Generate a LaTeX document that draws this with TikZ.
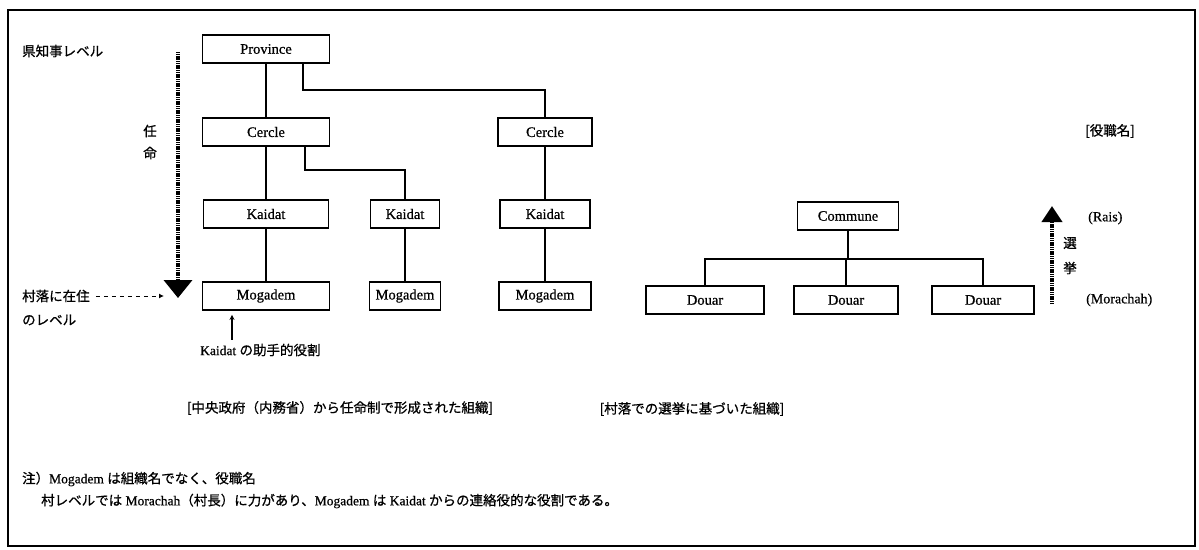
\documentclass[tikz,border=0pt]{standalone}
\usepackage{fontspec}
\setmainfont{Liberation Serif}[FakeBold=0.6]
\newfontfamily\jp{Noto Sans CJK JP}[FakeBold=0.8]
\usetikzlibrary{arrows.meta,calc}
\begin{document}
\begin{tikzpicture}[x={(1pt,0)},y={(0,-1pt)},
  box/.style={draw,line width=1.9pt,inner sep=0pt,minimum height=28pt,font=\fontsize{14.5}{14.5}\selectfont},
  conn/.style={line width=1.8pt},
  jtext/.style={font=\jp\fontsize{13.5}{13.5}\selectfont,inner sep=0pt},
  ltext/.style={font=\fontsize{14}{14}\selectfont,inner sep=0pt},
  dotarrow/.style={line width=3.8pt,dash pattern=on 1.2pt off 0.6pt},
  frame/.style={line width=1.8pt}]
\useasboundingbox (0,0) rectangle (1199,549);
\draw[frame] (8,10) rectangle (1195,546);
% left hierarchy
\node[box,minimum width=127pt] (prov) at (266,49) {Province};
\node[box,minimum width=127pt] (c1) at (266,132) {Cercle};
\node[box,minimum width=94pt] (c2) at (545,132) {Cercle};
\node[box,minimum width=125pt] (k1) at (266,214) {Kaidat};
\node[box,minimum width=69pt] (k2) at (405,214) {Kaidat};
\node[box,minimum width=90pt] (k3) at (545,214) {Kaidat};
\node[box,minimum width=127pt] (m1) at (266,296) {Mogadem};
\node[box,minimum width=71pt] (m2) at (405,296) {Mogadem};
\node[box,minimum width=92pt] (m3) at (545,296) {Mogadem};
\coordinate (j1) at (303,90);
\coordinate (j2) at (305,170);
\draw[conn] (prov) -- (c1);
\draw[conn] (prov.south -| j1) -- (j1) -| (c2.north);
\draw[conn] (c1) -- (k1);
\draw[conn] (c1.south -| j2) -- (j2) -| (k2.north);
\draw[conn] (c2) -- (k3);
\draw[conn] (k1) -- (m1);
\draw[conn] (k2) -- (m2);
\draw[conn] (k3) -- (m3);
% right hierarchy
\node[box,minimum width=101pt] (com) at (848,216) {Commune};
\node[box,minimum width=118pt] (d1) at (705,300) {Douar};
\node[box,minimum width=104pt] (d2) at (846,300) {Douar};
\node[box,minimum width=102pt] (d3) at (983,300) {Douar};
\coordinate (bar) at (848,259);
\draw[conn] (com.south) -- (com.south |- bar);
\draw[conn] (d1.north) |- (bar) -| (d3.north);
\draw[conn] (d2.north) -- (d2.north |- bar);
% left labels
\node[jtext,anchor=west] (lvl1) at (22,51) {県知事レベル};
\node[jtext] (nin) at (150,131) {任};
\node[jtext] (mei) at (150,153) {命};
\coordinate (la1) at (178,52);
\coordinate (la2) at (178,298);
\draw[dotarrow,-{Triangle[length=18pt,width=28pt]}] (la1) -- (la2);
\node[jtext,anchor=west] (lvl2) at (22,296) {村落に在住};
\node[jtext,anchor=west] (lvl2b) at (22,320) {のレベル};
\coordinate (lah) at (164,296);
\draw[line width=1pt,dash pattern=on 4pt off 4pt,-{Latex[length=5pt,width=5pt]}] ($(lvl2.east)+(6,0)$) -- (lah);
\node[anchor=west,inner sep=0pt] (kt) at (200,350) {\fontsize{13.5}{13.5}\selectfont Kaidat {\jp の助手的役割}};
\coordinate (ka) at (232,0);
\draw[line width=1.5pt,-{Stealth[length=5pt,width=5pt]}] ($(kt.north -| ka)+(0,-4)$) -- ($(m1.south -| ka)+(0,4)$);
% captions
\node[jtext] (cap1) at (340,408) {[中央政府（内務省）から任命制で形成された組織]};
\node[jtext] (cap2) at (692,409) {[村落での選挙に基づいた組織]};
% right labels
\node[jtext] (yaku) at (1110,131) {[役職名]};
\node[ltext,anchor=west] (rais) at (1088,218) {(Rais)};
\node[ltext,anchor=west] (mora) at (1086,300) {(Morachah)};
\coordinate (ra1) at (1052,304);
\coordinate (ra2) at (1052,206);
\draw[dotarrow,-{Triangle[length=16pt,width=20pt]}] (ra1) -- (ra2);
\node[jtext] (sen) at (1070,243) {選};
\node[jtext] (kyo) at (1070,268) {挙};
% notes
\node[anchor=west,inner sep=0pt] (n1) at (22,479) {\fontsize{13.5}{13.5}\selectfont{\jp 注）}Mogadem {\jp は組織名でなく、役職名}};
\node[anchor=west,inner sep=0pt] (n2) at (41,501) {\fontsize{13.5}{13.5}\selectfont{\jp 村レベルでは} Morachah{\jp （村長）に力があり、}Mogadem {\jp は} Kaidat {\jp からの連絡役的な役割である。}};
\end{tikzpicture}
\end{document}
